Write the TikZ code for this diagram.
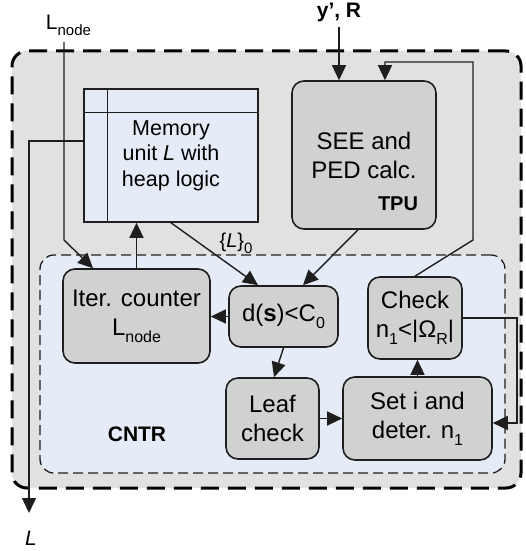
\documentclass[tikz,border=0pt]{standalone}
\usepackage{fontspec}
\setmainfont{Liberation Sans}
\usetikzlibrary{arrows.meta,calc}

% lowered, smaller subscript in text
\newcommand\lowsub[2][16]{\raisebox{-0.3em}{\fontsize{#1}{#1}\selectfont #2}}

\definecolor{outerfill}{HTML}{E1E1E1}
\definecolor{innerfill}{HTML}{E6ECF7}
\definecolor{boxfill}{HTML}{D0D1D1}
\definecolor{edge}{HTML}{1E1E1E}

\tikzset{
  outerbox/.style={draw=black, fill=outerfill, line width=3pt,
    dash pattern=on 18pt off 9pt, rounded corners=15pt, inner sep=0pt},
  cntrbox/.style={draw=edge, fill=innerfill, line width=1.3pt,
    dash pattern=on 10pt off 5pt, rounded corners=14pt, inner sep=0pt},
  procbox/.style={draw=edge, fill=boxfill, line width=1.6pt, rounded corners=12pt,
    inner sep=0pt, align=center, font=\fontsize{24}{29}\selectfont},
  membox/.style={draw=edge, fill=innerfill, line width=1.6pt, inner sep=0pt,
    align=center, font=\fontsize{21.5}{25.5}\selectfont},
  conn/.style={draw=edge, line width=1.4pt},
  arr/.style={conn, -{Triangle[length=15pt,width=14pt]}},
  lbl/.style={inner sep=0pt, font=\fontsize{21}{25}\selectfont},
}

\begin{document}
\begin{tikzpicture}[x=1pt, y=-1pt]
\useasboundingbox (0,0) rectangle (525,551);

% containers
\node[outerbox, minimum width=509pt, minimum height=437pt] (outer) at (266.5,269.5) {};
\node[cntrbox, minimum width=465pt, minimum height=218pt] (cntr) at (272.5,364) {};
\node[lbl, font=\fontsize{21}{25}\selectfont\bfseries] (cntrlbl) at (137,434.5) {CNTR};

% memory unit with heap logic
\node[membox, minimum width=174pt, minimum height=133pt] (mem) at (171,155.5)
  {Memory\\unit \textit{L} with\\heap logic};
\draw[conn] (mem.north west) ++(24,0) coordinate (mcol) -- (mcol |- mem.south);
\draw[conn] ($(mem.north west)+(0,24)$) coordinate (mrow) -- (mrow -| mem.east);

% processing blocks
\node[procbox, minimum width=144pt, minimum height=148pt] (tpu) at (364,155)
  {SEE and\\PED calc.};
\node[lbl, font=\fontsize{20}{24}\selectfont\bfseries] (tpulbl) at (398,204) {TPU};
\node[procbox, minimum width=147pt, minimum height=94pt] (iter) at (136.5,316)
  {Iter. counter\\L\lowsub{node}};
\node[procbox, minimum width=109pt, minimum height=61pt] (dsc) at (283.5,316.5)
  {d(\textbf{s})<C\lowsub{0}};
\node[procbox, minimum width=94pt, minimum height=82pt] (check) at (415,318)
  {Check\\n\lowsub{1}<|Ω\lowsub{R}|};
\node[procbox, minimum width=93pt, minimum height=81pt] (leaf) at (272.5,418.5)
  {Leaf\\check};
\node[procbox, minimum width=149pt, minimum height=83pt] (seti) at (417.5,418.5)
  {Set i and\\deter. n\lowsub{1}};

% outside labels
\node[lbl] (lnodein) at (68.5,25) {L\lowsub[15]{node}};
\node[lbl, font=\fontsize{21}{25}\selectfont\bfseries] (yr) at (339,12) {y’, R};
\node[lbl, font=\fontsize{21}{25}\selectfont\itshape] (lout) at (31,538) {L};
\node[lbl, font=\fontsize{20}{24}\selectfont] (l0) at (236,243) {\{\textit{L}\}\lowsub[15]{0}};

% connectors
\coordinate (lnodetop) at (64,42);
\coordinate (lnodebend) at (64,240);
\draw[arr] (lnodetop) -- (lnodebend) -- ([xshift=-43.5pt]iter.north);

\coordinate (loutend) at (29,513);
\draw[arr] ([yshift=14.5pt]mem.west) -| (loutend);

\draw[arr] (iter.north) -- (iter.north |- mem.south);
\draw[arr] (mem.south) -- ([xshift=-25.5pt]dsc.north);
\draw[arr] ([xshift=-6pt]tpu.south) -- ([xshift=19.5pt]dsc.north);
\draw[arr] (dsc.west) -- (dsc.west -| iter.east);
\draw[arr] (dsc.south) -- ([xshift=1.5pt]leaf.north);
\draw[arr] (leaf.east) -- (leaf.east -| seti.west);
\draw[arr] (seti.north) -- (seti.north |- check.south);
\draw[arr] (check.east) -- ++(54,0) |- ([yshift=-4.5pt]seti.east);

\coordinate (yrtop) at (339,27);
\draw[arr] (yrtop) -- ([xshift=-25pt]tpu.north);

\coordinate (fbbend) at (473,240);
\coordinate (fbtop) at (473,62);
\draw[arr] (check.north) -- (fbbend) -- (fbtop) -| ([xshift=21pt]tpu.north);
\end{tikzpicture}
\end{document}
